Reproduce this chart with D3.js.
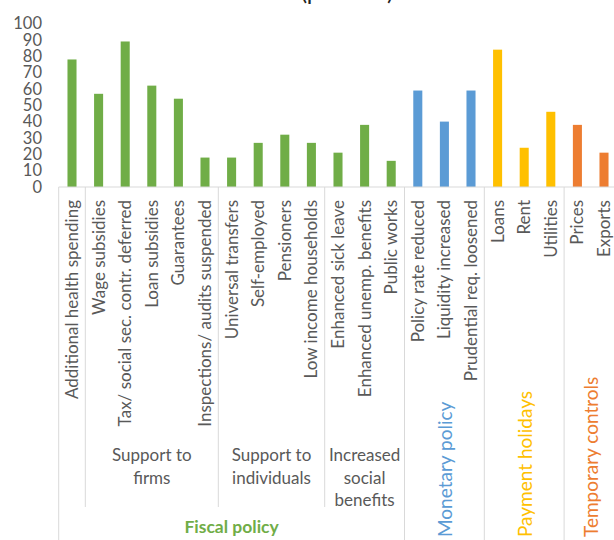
<!DOCTYPE html>
<html>
<head>
<meta charset="utf-8">
<script src="https://cdn.jsdelivr.net/npm/d3@7"></script>
<style>
  html, body { margin: 0; padding: 0; background: #fff; }
  svg { display: block; font-family: Lato, "Open Sans", "DejaVu Sans", sans-serif; }
</style>
</head>
<body>
<svg id="chart" width="614" height="540"></svg>
<script>
// Individual measures (innermost axis level)
const categories = [
  "Additional health spending", "Wage subsidies", "Tax/ social sec. contr. deferred",
  "Loan subsidies", "Guarantees", "Inspections/ audits suspended",
  "Universal transfers", "Self-employed", "Pensioners", "Low income households",
  "Enhanced sick leave", "Enhanced unemp. benefits", "Public works",
  "Policy rate reduced", "Liquidity increased", "Prudential req. loosened",
  "Loans", "Rent", "Utilities",
  "Prices", "Exports"
];
// Share of countries (percent)
const values = [78, 57, 89, 62, 54, 18, 18, 27, 32, 27, 21, 38, 16, 59, 40, 59, 84, 24, 46, 38, 21];

// Top-level policy groups and how many measures each holds
const policyGroups = ["Fiscal policy", "Monetary policy", "Payment holidays", "Temporary controls"];
const policyGroupSizes = [13, 3, 3, 2];
const policyColors = ["#70AD47", "#5B9BD5", "#FFC000", "#ED7D31"];

// Sub-groups inside fiscal policy (label lines) and their sizes
const fiscalSubgroups = [[], ["Support to", "firms"], ["Support to", "individuals"], ["Increased", "social", "benefits"]];
const fiscalSubgroupSizes = [1, 5, 4, 3];

const yTicks = [0, 10, 20, 30, 40, 50, 60, 70, 80, 90, 100];

const svg = d3.select("#chart");
const textGray = "#595959";
const lineGray = "#D9D9D9";
const fontSize = 17;

// group index for each measure
const groupOf = [];
policyGroupSizes.forEach((n, gi) => { for (let k = 0; k < n; k++) groupOf.push(gi); });

const x = d3.scaleBand()
  .domain(categories)
  .range([58.7, 617.3])
  .paddingInner(0.66)
  .paddingOuter(0.33);

const y = d3.scaleLinear().domain([0, 100]).range([187, 23.5]);

const step = x.step();
const bw = x.bandwidth();
// left edge of the slot of category i
const slotLeft = i => x(categories[i]) + bw / 2 - step / 2;

// Title (top of the figure, mostly above the visible area)
svg.append("text")
  .attr("x", 347).attr("y", -0.5)
  .attr("text-anchor", "middle")
  .attr("font-size", 24)
  .attr("fill", "#222")
  .text("(percent)");

// Y axis
const yAxis = d3.axisLeft(y).tickValues(yTicks).tickSize(0).tickPadding(0);
const gy = svg.append("g").attr("transform", "translate(42,0)").call(yAxis);
gy.select(".domain").remove();
gy.selectAll("text")
  .attr("font-size", 16.5)
  .attr("font-family", "Lato, 'Open Sans', sans-serif")
  .attr("fill", textGray);

// Bars
svg.append("g").selectAll("rect")
  .data(categories)
  .join("rect")
  .attr("x", d => x(d))
  .attr("y", (d, i) => y(values[i]))
  .attr("width", bw)
  .attr("height", (d, i) => y(0) - y(values[i]))
  .attr("fill", (d, i) => policyColors[groupOf[i]]);

// Horizontal axis line
svg.append("line")
  .attr("x1", slotLeft(0)).attr("x2", 614)
  .attr("y1", y(0)).attr("y2", y(0))
  .attr("stroke", lineGray).attr("stroke-width", 1);

// Category labels (rotated)
svg.append("g").selectAll("text")
  .data(categories)
  .join("text")
  .attr("transform", d => `translate(${x(d) + bw / 2},200) rotate(-90)`)
  .attr("text-anchor", "end")
  .attr("dy", "0.35em")
  .attr("font-size", fontSize)
  .attr("fill", textGray)
  .text(d => d);

// Separator lines between policy groups (full height)
const groupStarts = [];
{
  let s = 0;
  policyGroupSizes.forEach(n => { groupStarts.push(s); s += n; });
}
const gLines = svg.append("g").attr("stroke", lineGray).attr("stroke-width", 1);
groupStarts.forEach(s => {
  const xx = slotLeft(s);
  gLines.append("line").attr("x1", xx).attr("x2", xx).attr("y1", y(0)).attr("y2", 540);
});

// Separator lines between fiscal sub-groups
const subStarts = [];
{
  let s = 0;
  fiscalSubgroupSizes.forEach(n => { subStarts.push(s); s += n; });
}
subStarts.slice(1).forEach(s => {
  const xx = slotLeft(s);
  gLines.append("line").attr("x1", xx).attr("x2", xx).attr("y1", y(0)).attr("y2", 507);
});

// Fiscal sub-group labels
fiscalSubgroups.forEach((lines, k) => {
  const s = subStarts[k];
  const cx = slotLeft(s) + step * fiscalSubgroupSizes[k] / 2;
  lines.forEach((ln, j) => {
    svg.append("text")
      .attr("x", cx).attr("y", 455 + j * 22.7)
      .attr("dy", "0.35em")
      .attr("text-anchor", "middle")
      .attr("font-size", fontSize)
      .attr("fill", textGray)
      .text(ln);
  });
});

// Policy group labels
policyGroups.forEach((name, gi) => {
  const cx = slotLeft(groupStarts[gi]) + step * policyGroupSizes[gi] / 2;
  if (gi === 0) {
    svg.append("text")
      .attr("x", cx).attr("y", 527)
      .attr("dy", "0.35em")
      .attr("text-anchor", "middle")
      .attr("font-size", 17.5)
      .attr("font-weight", "bold")
      .attr("fill", policyColors[gi])
      .text(name);
  } else {
    svg.append("text")
      .attr("transform", `translate(${cx + 1},537) rotate(-90)`)
      .attr("dy", "0.35em")
      .attr("text-anchor", "start")
      .attr("font-size", 19)
      .attr("fill", policyColors[gi])
      .text(name);
  }
});
</script>
</body>
</html>
